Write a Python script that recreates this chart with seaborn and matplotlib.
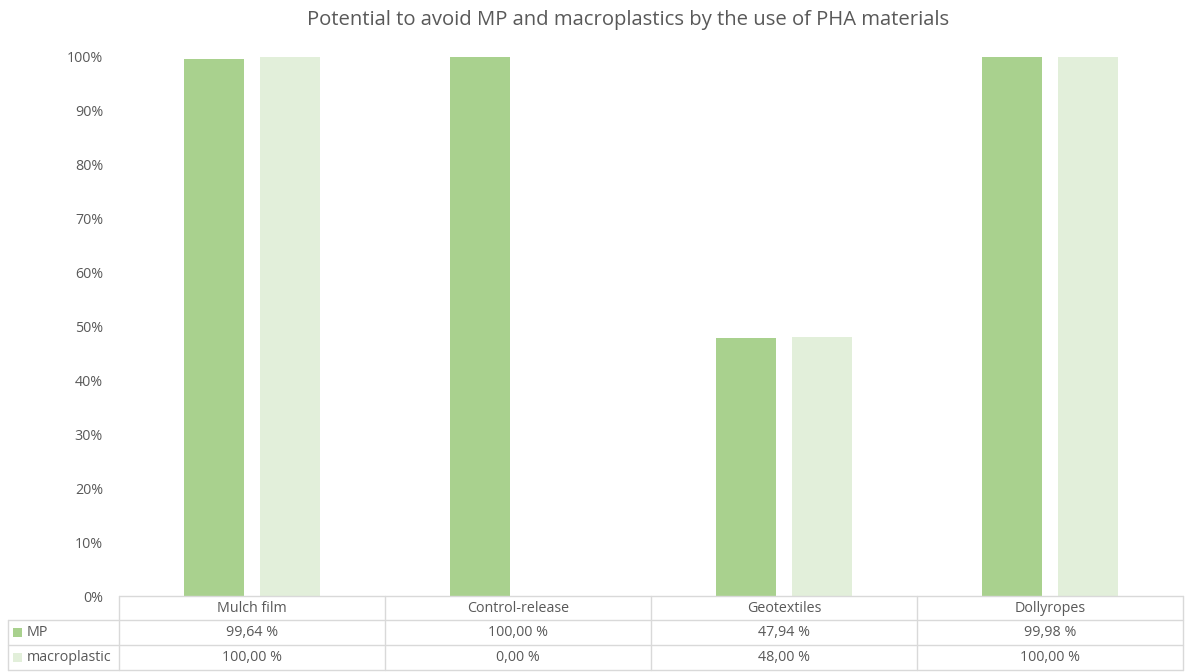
import matplotlib
matplotlib.use("Agg")
import matplotlib.pyplot as plt
from matplotlib.lines import Line2D
from matplotlib.patches import Rectangle
from matplotlib.ticker import PercentFormatter, MultipleLocator
import pandas as pd
import seaborn as sns

# Chart data
categories = ["Mulch film", "Control-release", "Geotextiles", "Dollyropes"]
series_names = ["MP", "macroplastic"]
mp_values = [99.64, 100.00, 47.94, 99.98]
macro_values = [100.00, 0.00, 48.00, 100.00]
title = "Potential to avoid MP and macroplastics by the use of PHA materials"

colors = {"MP": "#A9D18E", "macroplastic": "#E2EFDA"}
text_color = "#595959"
line_color = "#D9D9D9"
fs = 10.3

sns.set_theme(style="white")
plt.rcParams["font.family"] = ["Open Sans", "DejaVu Sans"]

df = pd.DataFrame({
    "category": categories * 2,
    "series": [series_names[0]] * len(categories) + [series_names[1]] * len(categories),
    "value": mp_values + macro_values,
})

W, H = 1189, 672
fig = plt.figure(figsize=(W / 100, H / 100), dpi=100)
left, right, top, bottom = 119, 1183, 57, 596
ax = fig.add_axes([left / W, 1 - bottom / H, (right - left) / W, (bottom - top) / H])

sns.barplot(data=df, x="category", y="value", hue="series", order=categories,
            hue_order=series_names, palette=colors, width=0.571, gap=0.21,
            saturation=1, linewidth=0, legend=False, ax=ax)

ax.set_xlim(-0.5, len(categories) - 0.5)
ax.set_ylim(0, 100)
ax.yaxis.set_major_locator(MultipleLocator(10))
ax.yaxis.set_major_formatter(PercentFormatter(decimals=0))
ax.tick_params(axis="y", length=0, labelsize=fs, labelcolor=text_color, pad=11.5)
ax.set_xticks([])
ax.set_xlabel("")
ax.set_ylabel("")
for s in ax.spines.values():
    s.set_visible(False)

fig.suptitle(title, x=628 / W, y=1 - 20 / H, va="center", fontsize=14.6, color=text_color)

# Data table below the plot area, in figure pixel coordinates
def fx(px):
    return px / W

def fy(py):
    return 1 - py / H

col_edges = [119 + i * (1183 - 119) / len(categories) for i in range(len(categories) + 1)]
row_edges = [596, 620, 645, 670]
tab_left = 8

def hline(x0, x1, y):
    fig.add_artist(Line2D([fx(x0), fx(x1)], [fy(y), fy(y)], color=line_color, lw=1))

def vline(x, y0, y1):
    fig.add_artist(Line2D([fx(x), fx(x)], [fy(y0), fy(y1)], color=line_color, lw=1))

hline(col_edges[0], col_edges[-1], row_edges[0])
for y in row_edges[1:]:
    hline(tab_left, col_edges[-1], y)
for x in col_edges:
    vline(x, row_edges[0], row_edges[-1])
vline(tab_left, row_edges[1], row_edges[-1])

def fmt(v):
    return f"{v:.2f}".replace(".", ",") + " %"

for i, cat in enumerate(categories):
    cx = (col_edges[i] + col_edges[i + 1]) / 2
    fig.text(fx(cx), fy((row_edges[0] + row_edges[1]) / 2), cat, ha="center", va="center",
             fontsize=fs, color=text_color)
    for r, vals in enumerate([mp_values, macro_values]):
        cy = (row_edges[r + 1] + row_edges[r + 2]) / 2
        fig.text(fx(cx), fy(cy), fmt(vals[i]), ha="center", va="center",
                 fontsize=fs, color=text_color)

for r, name in enumerate(series_names):
    cy = (row_edges[r + 1] + row_edges[r + 2]) / 2
    fig.add_artist(Rectangle((fx(13), fy(cy + 4.5)), 9 / W, 9 / H,
                             transform=fig.transFigure, color=colors[name], lw=0))
    fig.text(fx(27), fy(cy), name, ha="left", va="center", fontsize=fs, color=text_color)

fig.savefig("out.png", dpi=100, facecolor="white")
